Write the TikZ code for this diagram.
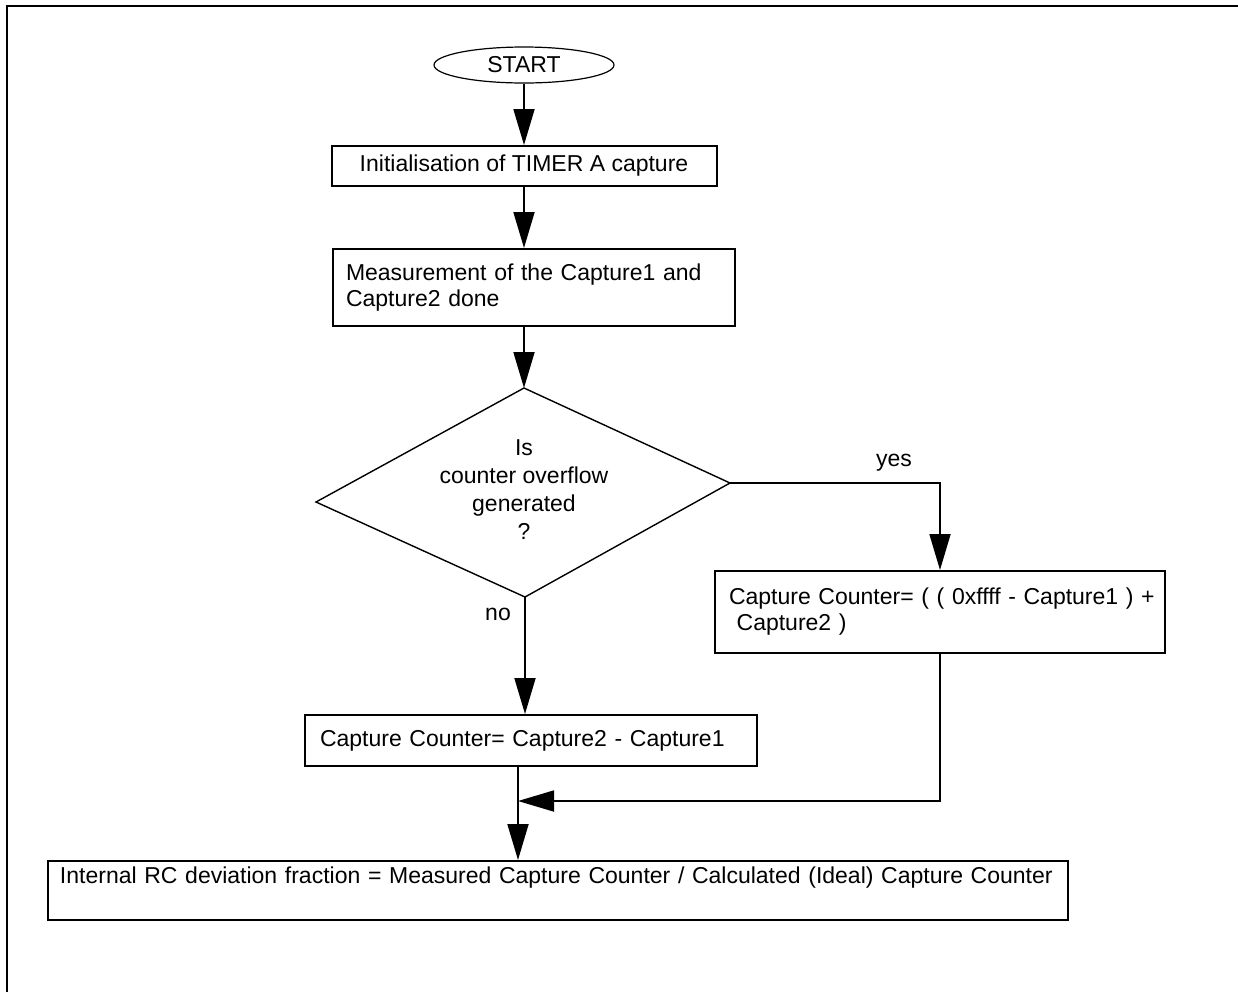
\documentclass[tikz,border=0pt]{standalone}
\usepackage{fontspec}
\setmainfont{Liberation Sans}
\usepackage{tikz}
\usetikzlibrary{shapes,arrows.meta}
\usetikzlibrary{calc}

\begin{document}
\begin{tikzpicture}[x=0.5pt,y=-0.5pt,
	every node/.style={font=\fontsize{11.5}{13}\selectfont},
	box/.style={rectangle,draw,line width=1pt,inner ysep=0pt},
	flow/.style={line width=0.9pt,-{Triangle[length=18pt,width=10.5pt]}}]

		\useasboundingbox (0,0) rectangle (1238,992);
		\draw[line width=1pt] (7,992) -- (7,6) -- (1238,6);

		\node[ellipse,draw,line width=0.6pt,minimum width=90pt,minimum height=18pt,inner sep=0pt] (start) at (524,65) {START};
		\node[box,minimum width=192.5pt,minimum height=20pt] (initbox) at (524,166) {Initialisation of TIMER A capture};
		\node[box,text width=188pt,inner xsep=6.5pt,align=left,minimum height=38.5pt] (measbox) at (534,287.5) {Measurement of the Capture1 and\\Capture2 done};

		%% decision
		\coordinate (dtop) at (524,388);
		\coordinate (dleft) at (316,502);
		\coordinate (dright) at (730,483);
		\coordinate (dbot) at (525,597);
		\draw[line width=0.7pt] (dtop) -- (dright) -- (dbot) -- (dleft) -- cycle;
		\node[align=center,font=\fontsize{11.5}{14}\selectfont] (quest) at (524,490) {Is\\counter overflow\\generated\\?};

		\node[box,text width=211pt,inner xsep=7pt,align=left,minimum height=41pt] (yesbox) at (940,612) {\mbox{Capture Counter= ( ( 0xffff - Capture1 ) +}\\\ Capture2 )};
		\node[box,text width=211pt,inner xsep=7.5pt,align=left,minimum height=25.5pt] (nobox) at (531,740.5) {Capture Counter= Capture2 - Capture1};
		\node[box,text width=498pt,inner xsep=6pt,align=left,minimum height=29.5pt,text height=8pt,text depth=15.5pt] (result) at (558,890.5) {Internal RC deviation fraction = Measured Capture Counter / Calculated (Ideal) Capture Counter};

		\node (yeslbl) at (894,463) {yes};
		\node (nolbl) at (498,614) {no};

		\coordinate (join) at (518,801);
		\draw[flow] (start) -- (initbox);
		\draw[flow] (initbox.south) -- (initbox.south |- measbox.north);
		\draw[flow] (measbox.south -| dtop) -- (dtop);
		\draw[flow] (dright) -| (yesbox.north);
		\draw[flow] (dbot) -- (dbot |- nobox.north);
		\draw[flow] (yesbox.south) |- (join);
		\draw[flow] (nobox.south -| join) -- (join |- result.north);

	\end{tikzpicture}
\end{document}
